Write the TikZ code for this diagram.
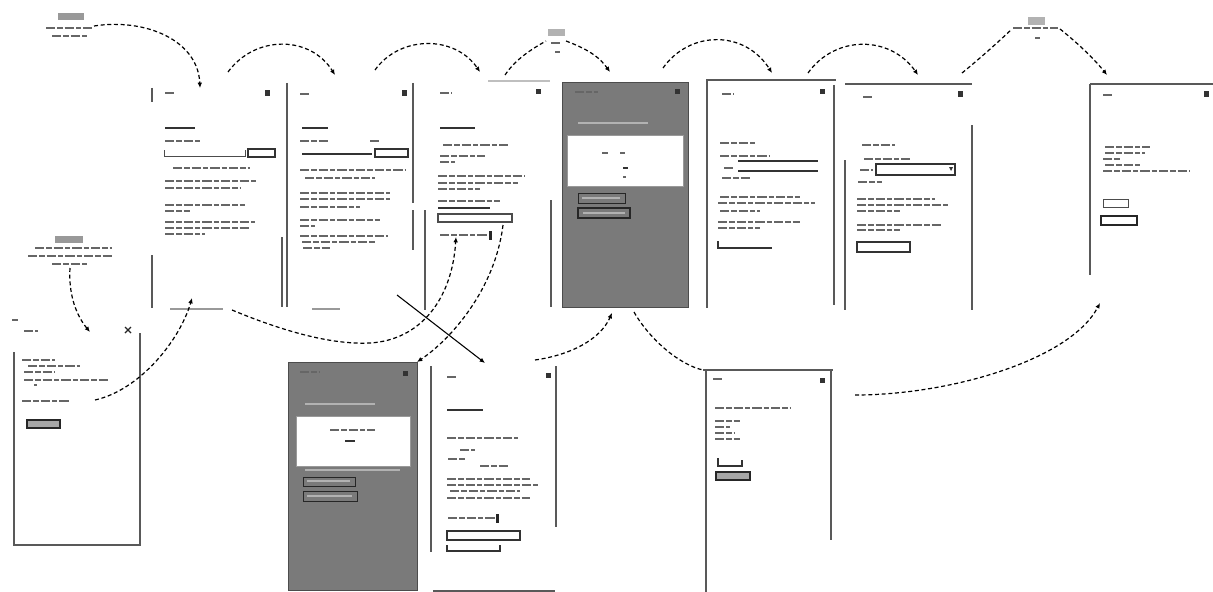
\documentclass[tikz,border=0pt]{standalone}
\usetikzlibrary{arrows.meta,calc}
\tikzset{
 tx/.style={line width=1.2pt, black!60, dash pattern=on 7pt off 1.5pt on 4pt off 1.5pt},
 txd/.style={line width=1.4pt, black!80},
 frame/.style={line width=0.9pt, black!65},
 scr/.style={draw=none, inner sep=0pt, outer sep=0pt},
 modal/.style={fill=black!52, draw=black!70, line width=0.6pt, inner sep=0pt, outer sep=0pt},
 wbox/.style={fill=white, draw=black!40, line width=0.5pt},
 btn/.style={draw=black!80, line width=0.8pt},
 flow/.style={line width=0.9pt, dash pattern=on 3pt off 2pt, -{Latex[length=4pt,width=3.5pt]}},
 flowplain/.style={line width=0.9pt, dash pattern=on 3pt off 2pt},
 pill/.style={fill=black!40, draw=none},
}
\newcommand\wtl[3]{\draw[tx] (#1,#3) -- (#2,#3);}
\newcommand\wtd[3]{\draw[txd] (#1,#3) -- (#2,#3);}
\newcommand\wic[2]{\fill[black!80] (#1-2.5,#2-2.5) rectangle (#1+2.5,#2+2.5);}
\begin{document}
\begin{tikzpicture}[x=0.75pt,y=-0.75pt]
\useasboundingbox (0,0) rectangle (1213,592);

% ---------- screen nodes ----------
\node[scr,anchor=north west,minimum width=133*0.75pt,minimum height=228*0.75pt] (s1) at (152,82) {};
\node[scr,anchor=north west,minimum width=128*0.75pt,minimum height=228*0.75pt] (s2) at (287,82) {};
\node[scr,anchor=north west,minimum width=127*0.75pt,minimum height=228*0.75pt] (s3) at (425,82) {};
\node[modal,anchor=north west,minimum width=126*0.75pt,minimum height=225*0.75pt] (s4) at (562,82) {};
\node[scr,anchor=north west,minimum width=130*0.75pt,minimum height=228*0.75pt] (s5) at (706,80) {};
\node[scr,anchor=north west,minimum width=127*0.75pt,minimum height=227*0.75pt] (s6) at (845,83) {};
\node[scr,anchor=north west,minimum width=123*0.75pt,minimum height=192*0.75pt] (s7) at (1090,83) {};
\node[scr,anchor=north west,minimum width=130*0.75pt,minimum height=227*0.75pt] (s8) at (12,318) {};
\node[modal,anchor=north west,minimum width=129*0.75pt,minimum height=228*0.75pt] (s9) at (288,362) {};
\node[scr,anchor=north west,minimum width=127*0.75pt,minimum height=230*0.75pt] (s10) at (430,362) {};
\node[scr,anchor=north west,minimum width=130*0.75pt,minimum height=222*0.75pt] (s11) at (703,370) {};

% ---------- label nodes ----------
\node[scr,minimum width=50*0.75pt,minimum height=26*0.75pt] (l1) at (69,26) {};
\node[scr,minimum width=85*0.75pt,minimum height=32*0.75pt] (l2) at (70,252) {};
\node[scr,minimum width=20*0.75pt,minimum height=26*0.75pt] (l3) at (556,41) {};
\node[scr,minimum width=48*0.75pt,minimum height=24*0.75pt] (l4) at (1036,29) {};

% ---------- S1 ----------
\draw[frame] (152,88) -- (152,102);
\draw[frame] (152,255) -- (152,308);
\draw[frame] (287,83) -- (287,240);
\draw[frame] (282,237) -- (282,307);
\draw[frame,black!40] (170,309) -- (223,309);
\wtl{165}{176}{93} \wic{267}{93}
\wtd{165}{195}{128}
\wtl{165}{200}{141}
\draw[black!70,line width=0.6pt] (164,150) -- (164,156) -- (245,156) -- (245,150);
\draw[btn] (248,149) rectangle (275,157);
\wtl{173}{250}{168}
\wtl{165}{258}{181} \wtl{165}{240}{188}
\wtl{165}{245}{205} \wtl{165}{190}{211}
\wtl{165}{255}{222} \wtl{165}{250}{228} \wtl{165}{205}{234}

% ---------- S2 ----------
\draw[frame] (413,83) -- (413,203);
\draw[frame] (413,210) -- (413,250);
\draw[frame] (287,240) -- (287,307);
\draw[frame,black!40] (312,309) -- (340,309);
\wtl{300}{310}{94} \wic{404}{93}
\wtd{302}{328}{128}
\wtl{300}{330}{141} \wtl{370}{380}{141}
\draw[black!80,line width=1.4pt] (302,154) -- (372,154);
\draw[btn] (375,149) rectangle (408,157);
\wtl{300}{405}{170} \wtl{305}{375}{178}
\wtl{300}{390}{193} \wtl{300}{390}{199} \wtl{300}{360}{207}
\wtl{300}{380}{220} \wtl{300}{315}{226}
\wtl{300}{388}{236} \wtl{302}{375}{242} \wtl{303}{330}{248}

% ---------- S3 ----------
\draw[frame] (425,210) -- (425,310);
\draw[frame] (551,200) -- (551,307);
\draw[frame,black!25] (488,81) -- (550,81);
\wtl{440}{452}{93} \wic{538}{92}
\wtd{440}{475}{128}
\wtl{443}{510}{145}
\wtl{440}{485}{156} \wtl{440}{455}{162}
\wtl{438}{525}{176} \wtl{438}{518}{183} \wtl{438}{480}{189}
\wtl{438}{500}{201}
\wtd{438}{490}{208}
\draw[black!70,line width=0.8pt] (438,214) rectangle (512,222);
\wtl{440}{488}{235} \fill[black!85] (489,231) rectangle (492,240);

% ---------- S4 (modal) ----------
\wtl{575}{598}{92} \wic{677}{92}
\draw[black!30,line width=1pt] (578,123) -- (648,123);
\node[wbox,anchor=north west,minimum width=116*0.75pt,minimum height=51*0.75pt,inner sep=0pt] (s4box) at (567,135) {};
\wtl{602}{608}{153} \wtl{620}{625}{153}
\wtd{623}{628}{168} \wtl{623}{626}{177}
\draw[black!85,line width=0.7pt] (578,193) rectangle (625,203);
\draw[black!85,line width=0.9pt] (578,208) rectangle (630,218);
\draw[black!30,line width=0.8pt] (582,198) -- (620,198);
\draw[black!30,line width=0.8pt] (583,213) -- (625,213);

% ---------- S5 ----------
\draw[frame] (706,80) -- (836,80);
\draw[frame] (707,80) -- (707,308);
\draw[frame] (834,85) -- (834,305);
\wtl{722}{734}{94} \wic{822}{92}
\wtl{720}{755}{143}
\wtl{720}{770}{156}
\draw[black!80,line width=0.8pt] (738,161) -- (818,161) (738,171) -- (818,171);
\wtl{724}{735}{168}
\wtl{722}{750}{178}
\wtl{720}{800}{197} \wtl{718}{815}{203} \wtl{720}{760}{211}
\wtl{718}{800}{222} \wtl{718}{760}{228}
\draw[black!80,line width=0.8pt] (718,241) -- (718,248) -- (772,248);

% ---------- S6 ----------
\draw[frame] (845,84) -- (972,84);
\draw[frame] (845,160) -- (845,310);
\draw[frame] (972,125) -- (972,310);
\wtl{863}{873}{97} \wic{960}{94}
\wtl{862}{895}{145}
\wtl{864}{910}{159}
\draw[black!80,line width=0.8pt] (876,164) rectangle (955,175);
\fill[black!80] (949,167) -- (953,167) -- (951,171) -- cycle;
\wtl{860}{873}{170}
\wtl{858}{882}{182}
\wtl{857}{935}{199} \wtl{857}{950}{205} \wtl{857}{900}{211}
\wtl{857}{942}{225} \wtl{857}{900}{230}
\draw[black!80,line width=0.9pt] (857,242) rectangle (910,252);

% ---------- S7 ----------
\draw[frame] (1090,84) -- (1213,84);
\draw[frame] (1090,84) -- (1090,275);
\wtl{1103}{1113}{95} \wic{1206}{94}
\wtl{1105}{1150}{147} \wtl{1105}{1145}{153} \wtl{1103}{1120}{159}
\wtl{1105}{1140}{165} \wtl{1103}{1190}{171}
\draw[black!70,line width=0.7pt] (1103,199) rectangle (1128,207);
\draw[black!85,line width=1.2pt] (1101,216) rectangle (1137,225);

% ---------- S8 ----------
\draw[frame] (14,352) -- (14,545) -- (140,545) -- (140,333);
\wtl{12}{18}{320} \wtl{24}{38}{331}
\draw[black!85,line width=0.9pt] (125,327) -- (131,333) (125,333) -- (131,327);
\wtl{22}{55}{360} \wtl{28}{80}{366} \wtl{24}{55}{372}
\wtl{24}{110}{380} \wtl{34}{37}{385}
\wtl{22}{70}{401}
\draw[black!85,line width=1.1pt,fill=black!35] (27,420) rectangle (60,428);

% ---------- S9 (modal) ----------
\wtl{300}{320}{372} \wic{405}{373}
\draw[black!30,line width=1pt] (305,404) -- (375,404);
\node[wbox,anchor=north west,minimum width=114*0.75pt,minimum height=50*0.75pt,inner sep=0pt] (s9box) at (296,416) {};
\wtl{330}{375}{430} \wtd{345}{355}{441}
\draw[black!30,line width=0.8pt] (305,470) -- (400,470);
\draw[black!85,line width=0.7pt] (303,477) rectangle (355,486);
\draw[black!85,line width=0.7pt] (303,491) rectangle (357,501);
\draw[black!30,line width=0.8pt] (307,481) -- (350,481) (307,496) -- (352,496);

% ---------- S10 ----------
\draw[frame] (431,366) -- (431,552);
\draw[frame] (556,366) -- (556,527);
\draw[frame] (433,591) -- (555,591);
\wtl{447}{457}{377} \wic{548}{375}
\wtd{447}{483}{410}
\wtl{447}{518}{438}
\wtl{460}{475}{450} \wtl{448}{465}{459} \wtl{480}{510}{466}
\wtl{447}{530}{479} \wtl{447}{540}{485} \wtl{450}{520}{491} \wtl{447}{530}{498}
\wtl{448}{495}{518} \fill[black!85] (496,514) rectangle (499,523);
\draw[black!80,line width=0.8pt] (447,531) rectangle (520,540);
\draw[black!80,line width=0.8pt] (447,545) -- (447,551) -- (500,551) -- (500,545);

% ---------- S11 ----------
\draw[frame] (703,370) -- (833,370);
\draw[frame] (706,370) -- (706,592);
\draw[frame] (831,370) -- (831,540);
\wtl{713}{722}{379} \wic{822}{380}
\wtl{715}{790}{408}
\wtl{715}{740}{421} \wtl{715}{730}{427} \wtl{715}{735}{433} \wtl{715}{740}{439}
\draw[black!80,line width=0.8pt] (718,458) -- (718,466) -- (742,466) -- (742,460);
\draw[black!85,line width=1.1pt,fill=black!35] (716,472) rectangle (750,480);

% ---------- labels ----------
\fill[pill] (58,13) rectangle (84,20);
\wtl{46}{92}{28} \wtl{52}{87}{36}
\fill[pill] (55,236) rectangle (83,243);
\wtl{35}{112}{248} \wtl{28}{112}{256} \wtl{52}{88}{264}
\fill[pill,black!30] (548,29) rectangle (565,36);
\wtl{551}{562}{43} \wtl{555}{560}{52}
\fill[pill,black!30] (1028,17) rectangle (1045,25);
\wtl{1013}{1058}{28} \wtl{1035}{1040}{38}

% ---------- connectors ----------
\draw[flow] (l1.east) .. controls (145,18) and (198,40) .. ($(s1.north west)+(48,6)$);
\draw[flow] ($(s1.north west)+(76,-10)$) .. controls (255,35) and (310,35) .. ($(s2.north west)+(48,-7)$);
\draw[flow] ($(s2.north west)+(88,-12)$) .. controls (400,35) and (455,35) .. ($(s3.north west)+(55,-10)$);
\draw[flowplain] ($(s3.north west)+(80,-7)$) .. controls (515,60) and (530,50) .. (l3.west);
\draw[flow] (l3.east) .. controls (590,50) and (600,58) .. ($(s4.north west)+(48,-10)$);
\draw[flow] ($(s4.north east)+(-25,-14)$) .. controls (690,30) and (745,30) .. ($(s5.north west)+(66,-7)$);
\draw[flow] ($(s5.north east)+(-28,-7)$) .. controls (835,35) and (890,35) .. ($(s6.north west)+(73,-8)$);
\draw[flowplain] ($(s6.north east)+(-10,-10)$) .. controls (978,60) and (995,45) .. (l4.west);
\draw[flow] (l4.east) .. controls (1080,45) and (1095,60) .. ($(s7.north west)+(17,-8)$);
\draw[flow] (l2.south) .. controls (68,300) and (80,320) .. ($(s8.north west)+(78,14)$);
\draw[flow] ($(s8.north west)+(83,82)$) .. controls (140,390) and (180,340) .. ($(s1.south west)+(40,-12)$);
\draw[flow] ($(s1.south west)+(80,0)$) .. controls (280,330) and (330,345) .. (370,343) .. controls (420,340) and (452,300) .. ($(s3.north west)+(31,155)$);
\draw[flow] ($(s3.north west)+(78,143)$) .. controls (495,290) and (450,340) .. (s9.north east);
\draw[line width=0.8pt,-{Latex[length=4pt,width=3.5pt]}] ($(s2.south east)+(-18,-15)$) -- ($(s10.north west)+(55,1)$);
\draw[flow] ($(s10.north west)+(105,-2)$) .. controls (570,355) and (600,340) .. ($(s4.south west)+(50,6)$);
\draw[flowplain] ($(s4.south west)+(72,5)$) .. controls (650,340) and (680,365) .. (s11.north west);
\draw[flow] ($(s11.north east)+(22,25)$) .. controls (950,395) and (1070,360) .. ($(s7.south west)+(10,28)$);
\end{tikzpicture}
\end{document}
